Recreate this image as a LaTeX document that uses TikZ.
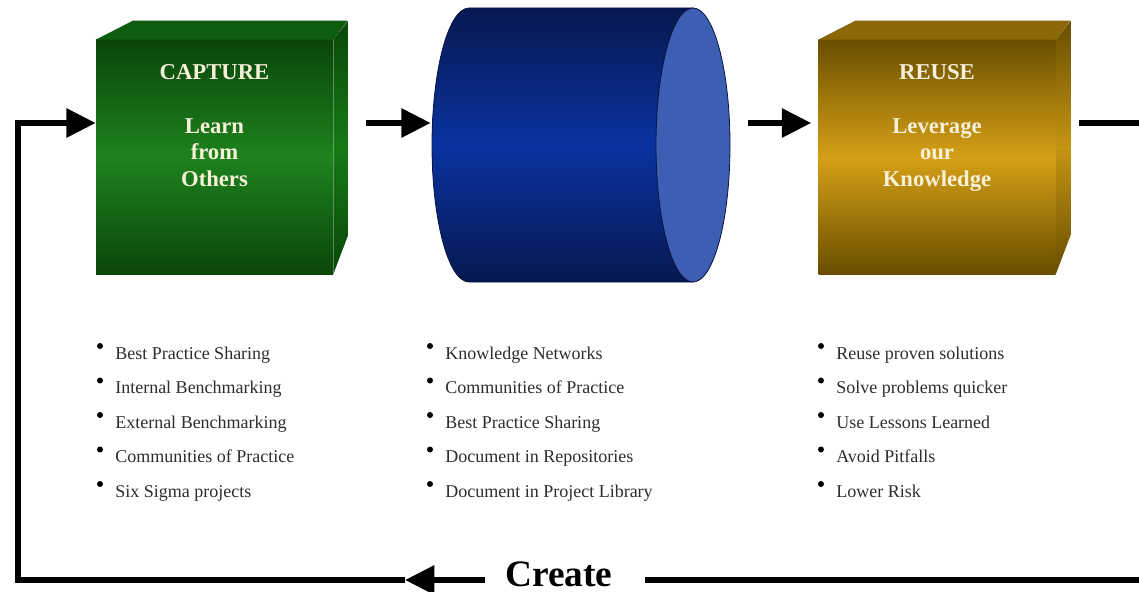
\documentclass[tikz,border=0pt]{standalone}
\usepackage{fontspec}
\setmainfont{Liberation Serif}
\usetikzlibrary{arrows.meta,calc}

\definecolor{capdark}{RGB}{10,70,10}
\definecolor{capmid}{RGB}{30,130,30}
\definecolor{captop}{RGB}{14,92,14}
\definecolor{capside}{RGB}{22,122,22}
\definecolor{reusedark}{RGB}{105,78,0}
\definecolor{reusemid}{RGB}{214,160,22}
\definecolor{reusetop}{RGB}{138,104,10}
\definecolor{reuseside}{RGB}{196,148,18}
\definecolor{cyldark}{RGB}{6,24,80}
\definecolor{cylmid}{RGB}{10,50,160}
\definecolor{cylend}{RGB}{60,95,180}
\definecolor{cyledge}{RGB}{10,20,60}
\definecolor{cream}{RGB}{245,240,215}
\definecolor{itemgray}{RGB}{45,45,45}

\begin{document}
\begin{tikzpicture}[x=0.75pt,y=0.75pt,yscale=-1,xscale=1,
    flow/.style={line width=4.5pt},
    flowhead/.style={-{Triangle[length=22pt,width=21pt]}},
    front/.style={minimum width=177.75pt,minimum height=175.5pt,inner sep=0pt},
    boxtext/.style={anchor=north,inner sep=0pt,align=center,text=cream,font=\bfseries\fontsize{17}{20}\selectfont},
    listitem/.style={anchor=base west,inner sep=0pt,text=itemgray,font=\fontsize{13.5}{16}\selectfont}]
    \useasboundingbox (0,0) rectangle (1139,592);

    % Cube CAPTURE
    \node[front,top color=capdark,bottom color=capdark,middle color=capmid] (capture) at (214.5,157) {};
    \fill[captop] (capture.north west) -- ++(37,-19) -- ++(215,0) -- (capture.north east) -- cycle;
    \shade[top color=capdark,bottom color=capdark,middle color=capside] (capture.north east) -- ++(15,-19) -- ++(0,214) -- (capture.south east) -- cycle;

    % Cube REUSE
    \node[front,top color=reusedark,bottom color=reusedark,middle color=reusemid] (reuse) at (937,157) {};
    \fill[reusetop] (reuse.north west) -- ++(37,-19) -- ++(215,0) -- (reuse.north east) -- cycle;
    \shade[top color=reusedark,bottom color=reusedark,middle color=reuseside] (reuse.north east) -- ++(15,-19) -- ++(0,214) -- (reuse.south east) -- cycle;

    % Cylinder
    \shade[top color=cyldark,bottom color=cyldark,middle color=cylmid,draw=cyledge,line width=0.6pt] (693,8) -- (469,8) arc[start angle=270,end angle=90,x radius=37,y radius=137] -- (693,282) -- cycle;
    \filldraw[fill=cylend,draw=cyledge,line width=0.6pt] (693,145) ellipse [x radius=37,y radius=137];
    \node[minimum width=223.5pt,minimum height=205.5pt,inner sep=0pt] (store) at (581,145) {};

    % Text Node
    \node[boxtext] (capturetext) at (214.5,64.5) {CAPTURE\\[20pt]Learn\\from\\Others};
    % Text Node
    \node[boxtext] (reusetext) at (937,64.5) {REUSE\\[20pt]Leverage\\our\\Knowledge};

    % Arrows
    \coordinate (toprow) at (0,123);
    \coordinate (botrow) at (0,580);
    \coordinate (rightedge) at (1139,123);
    \coordinate (botright) at (1139,580);
    \coordinate (looptip) at (405,580);
    \coordinate (loopcorner) at (18,580);
    \coordinate (looptop) at (18,123);
    \draw[flow,flowhead] ($(capture.east |- toprow)+(33,0)$) -- ($(store.west |- toprow)+(-1,0)$);
    \draw[flow,flowhead] ($(store.east |- toprow)+(18,0)$) -- ($(reuse.west |- toprow)+(-7,0)$);
    \draw[flow] ($(reuse.east |- toprow)+(23,0)$) -- (rightedge);

    % Text Node
    \node[font=\bfseries\fontsize{28}{30}\selectfont,inner sep=0pt,anchor=base] (create) at (559,586) {Create};
    \draw[flow] ($(create.east |- botrow)+(32,0)$) -- (botright);
    \draw[flow,flowhead] ($(create.west |- botrow)+(-20,0)$) -- (looptip);
    \draw[flow,flowhead] (looptip) -- (loopcorner) -- (looptop) -- (capture.west |- toprow);

    % Lists
    \foreach \t [count=\i] in {Best Practice Sharing,Internal Benchmarking,External Benchmarking,Communities of Practice,Six Sigma projects}{
        \node[listitem] (capitem\i) at (115,{359+34.5*(\i-1)}) {\t};
        \fill ($(capitem\i.base west)+(-15,-13)$) circle[radius=3];
    }
    \foreach \t [count=\i] in {Knowledge Networks,Communities of Practice,Best Practice Sharing,Document in Repositories,Document in Project Library}{
        \node[listitem] (storeitem\i) at (445,{359+34.5*(\i-1)}) {\t};
        \fill ($(storeitem\i.base west)+(-15,-13)$) circle[radius=3];
    }
    \foreach \t [count=\i] in {Reuse proven solutions,Solve problems quicker,Use Lessons Learned,Avoid Pitfalls,Lower Risk}{
        \node[listitem] (reuseitem\i) at (836,{359+34.5*(\i-1)}) {\t};
        \fill ($(reuseitem\i.base west)+(-15,-13)$) circle[radius=3];
    }
\end{tikzpicture}
\end{document}
